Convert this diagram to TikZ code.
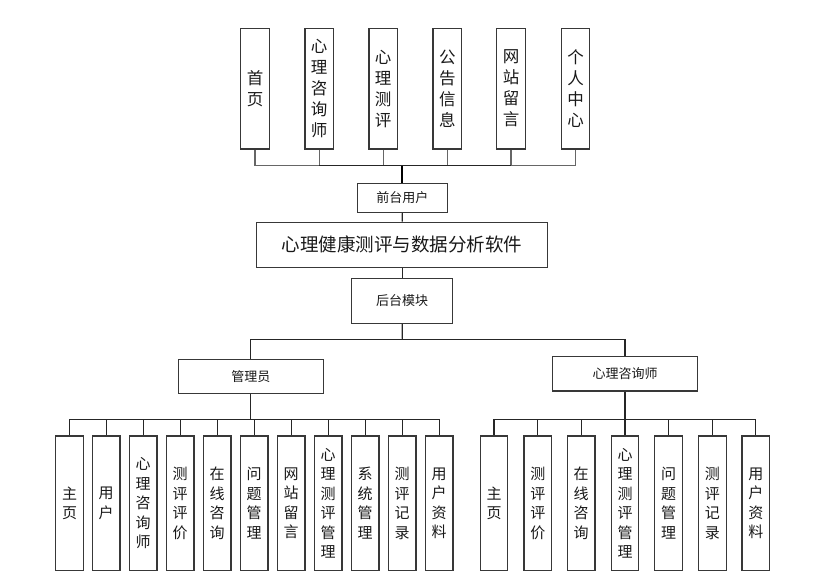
\documentclass[tikz,border=0pt]{standalone}
\usepackage{fontspec}
\setmainfont{Noto Sans CJK SC}
\begin{document}
\begin{tikzpicture}[x=1pt,y=-1pt,
  box/.style={draw=black!78,line width=1.2pt,fill=white,inner sep=0pt,text=black!90},
  topbox/.style={box,minimum width=28.5pt,minimum height=120.7pt,align=center,font=\fontsize{16.5}{21}\selectfont},
  kid/.style={box,minimum width=27.7pt,minimum height=134.7pt,align=center,font=\fontsize{15}{19.5}\selectfont},
  midbox/.style={box,font=\fontsize{13}{15}\selectfont},
  conn/.style={draw=black!85,line width=1.1pt},
  grey conn/.style={draw=black!60,line width=1.1pt},
  thick conn/.style={draw=black,line width=1.8pt}]
\useasboundingbox (0,0) rectangle (830,579);
% top row
\node[topbox] (t1) at (255,88.7) {首\\页};
\node[topbox] (t2) at (319.2,88.7) {心\\理\\咨\\询\\师};
\node[topbox] (t3) at (383.2,88.7) {心\\理\\测\\评};
\node[topbox] (t4) at (447.3,88.7) {公\\告\\信\\息};
\node[topbox] (t5) at (511,88.7) {网\\站\\留\\言};
\node[topbox] (t6) at (575.5,88.7) {个\\人\\中\\心};
\node[midbox,minimum width=90pt,minimum height=29pt] (fu) at (402.3,197.8) {前台用户};
\node[box,minimum width=291pt,minimum height=45pt,font=\fontsize{18.5}{20}\selectfont] (main) at (402.2,244.8) {心理健康测评与数据分析软件};
\node[midbox,minimum width=101pt,minimum height=45pt] (bk) at (402.2,300.8) {后台模块};
\node[midbox,minimum width=145pt,minimum height=34pt] (adm) at (250.8,376.3) {管理员};
\node[midbox,minimum width=145.4pt,minimum height=34.3pt] (con) at (625,373.8) {心理咨询师};
% top connections
\coordinate (tb) at (402.3,165.7);
\foreach \i in {1,...,6} {\draw[grey conn] (t\i.south) -- (t\i.south |- tb);}
\draw[grey conn] (t1.south |- tb) -- (t2.south |- tb);
\draw[grey conn] (t5.south |- tb) -- (t6.south |- tb);
\draw[conn] (t2.south |- tb) -- (t5.south |- tb);
\draw[thick conn] (tb) -- (fu.north);
\draw[conn] (fu.south) -- (main.north);
\draw[conn] (main.south) -- (bk.north);
\coordinate (mb) at (402.3,339.3);
\draw[conn] (bk.south) -- (mb);
\draw[conn] (mb) -| (adm.north);
\draw[conn] (mb) -| (con.north);
% admin children
\node[kid] (a1) at (69.5,503.3) {主\\页};
\node[kid] (a2) at (106.2,503.3) {用\\户};
\node[kid] (a3) at (143.2,503.3) {心\\理\\咨\\询\\师};
\node[kid] (a4) at (180.2,503.3) {测\\评\\评\\价};
\node[kid] (a5) at (217.2,503.3) {在\\线\\咨\\询};
\node[kid] (a6) at (254.2,503.3) {问\\题\\管\\理};
\node[kid] (a7) at (291.2,503.3) {网\\站\\留\\言};
\node[kid] (a8) at (328.2,503.3) {心\\理\\测\\评\\管\\理};
\node[kid] (a9) at (365.2,503.3) {系\\统\\管\\理};
\node[kid] (a10) at (402.2,503.3) {测\\评\\记\\录};
\node[kid] (a11) at (439.2,503.3) {用\\户\\资\\料};
\coordinate (ab) at (250.8,419.3);
\draw[conn] (adm.south) -- (ab);
\foreach \i in {1,...,11} {\draw[conn] (ab) -| (a\i.north);}
% consultant children
\node[kid] (c1) at (494,503.3) {主\\页};
\node[kid] (c2) at (537.8,503.3) {测\\评\\评\\价};
\node[kid] (c3) at (581.2,503.3) {在\\线\\咨\\询};
\node[kid] (c4) at (625,503.3) {心\\理\\测\\评\\管\\理};
\node[kid] (c5) at (668.7,503.3) {问\\题\\管\\理};
\node[kid] (c6) at (712.3,503.3) {测\\评\\记\\录};
\node[kid] (c7) at (755.8,503.3) {用\\户\\资\\料};
\coordinate (cb) at (625,419.3);
\draw[conn] (con.south) -- (cb);
\foreach \i in {1,...,7} {\draw[conn] (cb) -| (c\i.north);}
\end{tikzpicture}
\end{document}
